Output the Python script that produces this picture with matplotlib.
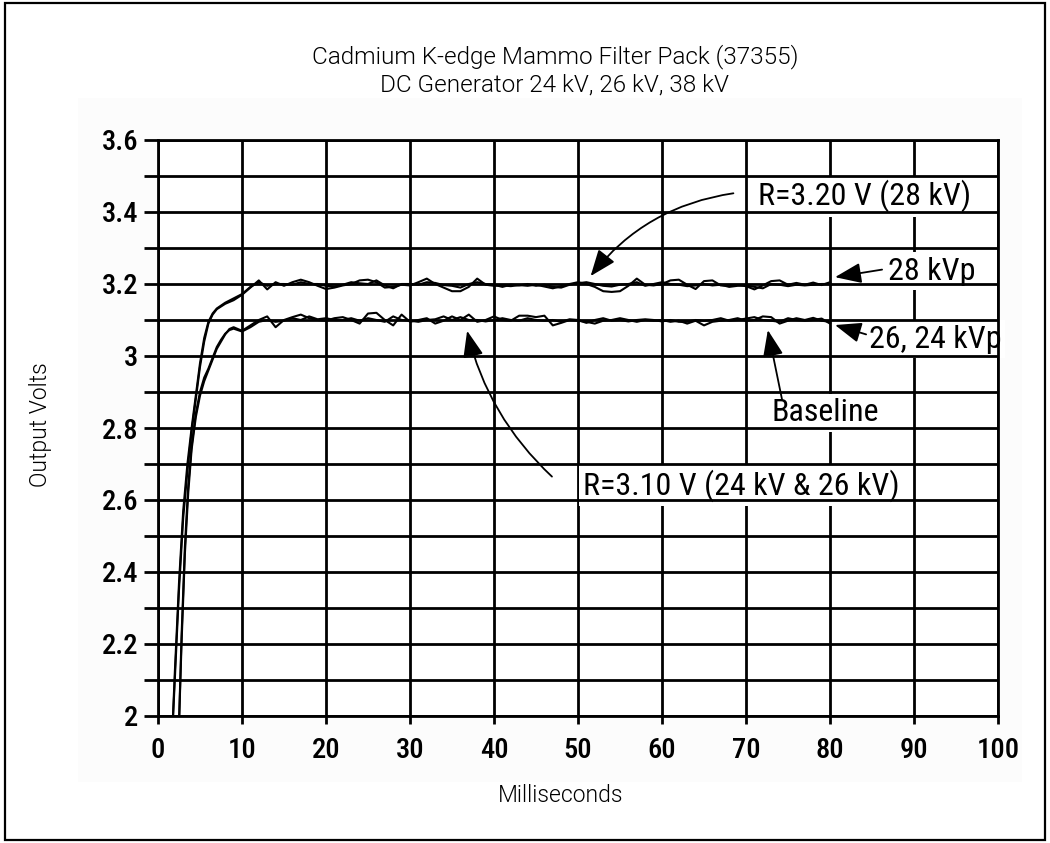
import matplotlib
matplotlib.use("Agg")
import matplotlib.pyplot as plt
from matplotlib.patches import Rectangle

# ---------------- data ----------------
title_lines = ["Cadmium K-edge Mammo Filter Pack (37355)", "DC Generator 24 kV, 26 kV, 38 kV"]
x_label = "Milliseconds"
y_label = "Output Volts"

x_ticks = [0, 10, 20, 30, 40, 50, 60, 70, 80, 90, 100]
y_ticks = [2.0, 2.1, 2.2, 2.3, 2.4, 2.5, 2.6, 2.7, 2.8, 2.9, 3.0, 3.1, 3.2, 3.3, 3.4, 3.5, 3.6]
y_tick_labels = ["2", "", "2.2", "", "2.4", "", "2.6", "", "2.8", "", "3", "", "3.2", "", "3.4", "", "3.6"]

# rise portions
rise28_x = [1.6, 2.0, 2.5, 3.0, 3.5, 4.0, 4.5, 5.0, 5.5, 6.0, 6.5, 7.0, 8.0, 9.0, 10.0, 11.0, 12.0]
rise28_a = [1.90, 2.10, 2.35, 2.55, 2.68, 2.79, 2.88, 2.97, 3.04, 3.09, 3.115, 3.13, 3.145, 3.155, 3.17, 3.19, 3.21]
rise28_b = [1.90, 2.12, 2.37, 2.57, 2.70, 2.80, 2.89, 2.98, 3.05, 3.095, 3.118, 3.132, 3.148, 3.16, 3.172, 3.192, 3.205]

rise_lo_x = [2.4, 2.8, 3.2, 3.6, 4.0, 4.5, 5.0, 5.5, 6.0, 6.5, 7.0, 7.5, 8.0, 8.5, 9.0, 10.0, 11.0, 12.0]
rise26 = [1.90, 2.20, 2.45, 2.62, 2.74, 2.83, 2.89, 2.93, 2.96, 2.99, 3.02, 3.04, 3.06, 3.075, 3.08, 3.07, 3.085, 3.10]
rise24 = [1.90, 2.22, 2.47, 2.64, 2.75, 2.84, 2.90, 2.94, 2.965, 2.995, 3.025, 3.045, 3.062, 3.072, 3.076, 3.068, 3.08, 3.095]

# steady portions, x = 13 .. 80 ms
steady_x = list(range(13, 81))
kv28_a = [3.185, 3.205, 3.195, 3.205, 3.212, 3.205, 3.195, 3.186, 3.190, 3.196,
          3.200, 3.210, 3.212, 3.205, 3.190, 3.192, 3.198, 3.196, 3.205, 3.215,
          3.200, 3.190, 3.180, 3.180, 3.192, 3.215, 3.198, 3.195, 3.196, 3.194,
          3.197, 3.195, 3.198, 3.193, 3.188, 3.194, 3.200, 3.205, 3.200, 3.192,
          3.180, 3.178, 3.180, 3.195, 3.215, 3.198, 3.196, 3.200, 3.210, 3.212,
          3.198, 3.186, 3.208, 3.210, 3.196, 3.195, 3.197, 3.194, 3.185, 3.196,
          3.208, 3.210, 3.198, 3.203, 3.198, 3.204, 3.197, 3.205]
kv28_b = [3.195, 3.200, 3.200, 3.198, 3.205, 3.200, 3.200, 3.195, 3.193, 3.198,
          3.205, 3.202, 3.200, 3.210, 3.196, 3.188, 3.200, 3.200, 3.198, 3.205,
          3.203, 3.197, 3.195, 3.190, 3.200, 3.205, 3.200, 3.198, 3.192, 3.198,
          3.196, 3.200, 3.195, 3.198, 3.192, 3.190, 3.198, 3.202, 3.205, 3.200,
          3.195, 3.193, 3.198, 3.200, 3.205, 3.195, 3.200, 3.205, 3.200, 3.198,
          3.194, 3.196, 3.200, 3.196, 3.198, 3.192, 3.195, 3.196, 3.192, 3.188,
          3.200, 3.198, 3.194, 3.198, 3.196, 3.198, 3.200, 3.200]
kv26 = [3.110, 3.080, 3.100, 3.108, 3.115, 3.105, 3.100, 3.098, 3.105, 3.108,
        3.100, 3.090, 3.118, 3.120, 3.100, 3.085, 3.115, 3.095, 3.100, 3.105,
        3.090, 3.098, 3.110, 3.100, 3.115, 3.095, 3.100, 3.110, 3.100, 3.098,
        3.112, 3.112, 3.108, 3.112, 3.085, 3.092, 3.100, 3.098, 3.095, 3.090,
        3.098, 3.100, 3.105, 3.100, 3.095, 3.100, 3.098, 3.100, 3.095, 3.098,
        3.090, 3.098, 3.085, 3.095, 3.098, 3.100, 3.105, 3.098, 3.100, 3.110,
        3.108, 3.090, 3.098, 3.105, 3.100, 3.106, 3.098, 3.095]
kv24 = [3.100, 3.095, 3.098, 3.105, 3.100, 3.110, 3.102, 3.105, 3.100, 3.100,
        3.105, 3.098, 3.105, 3.100, 3.095, 3.110, 3.100, 3.098, 3.095, 3.100,
        3.102, 3.110, 3.100, 3.108, 3.100, 3.100, 3.096, 3.100, 3.105, 3.100,
        3.098, 3.105, 3.100, 3.098, 3.100, 3.095, 3.102, 3.100, 3.092, 3.100,
        3.105, 3.098, 3.100, 3.096, 3.100, 3.102, 3.100, 3.096, 3.100, 3.095,
        3.095, 3.100, 3.098, 3.100, 3.105, 3.098, 3.100, 3.104, 3.108, 3.100,
        3.098, 3.095, 3.105, 3.100, 3.098, 3.100, 3.104, 3.090]

# annotations: (text, text position, arrow start, arrow tip, curvature)
ann_r320 = ("R=3.20 V (28 kV)", (71.4, 3.444), (68.5, 3.452), (51.5, 3.222), 0.2)
ann_28 = ("28 kVp", (86.9, 3.236), (86.2, 3.240), (80.6, 3.219), 0.0)
ann_2624 = ("26, 24 kVp", (84.6, 3.047), (84.3, 3.060), (80.6, 3.086), 0.0)
ann_base = ("Baseline", (79.4, 2.842), (74.3, 2.878), (72.6, 3.072), 0.0)
ann_r310 = ("R=3.10 V (24 kV & 26 kV)", (50.6, 2.640), (46.9, 2.665), (36.8, 3.070), -0.15)

# ---------------- figure ----------------
W, H = 1050, 843
fig = plt.figure(figsize=(W / 100, H / 100), dpi=100)
fig.patch.set_facecolor("white")

# faint backdrop of the pasted chart image and outer frame
fig.add_artist(Rectangle((78 / W, 1 - 782 / H), (1022 - 78) / W, (782 - 98) / H,
                         transform=fig.transFigure, facecolor="#fcfcfc", edgecolor="none", zorder=0))
fig.add_artist(Rectangle((5 / W, 1 - 840 / H), 1040 / W, 837 / H,
                         transform=fig.transFigure, fill=False, edgecolor="black", lw=1.6, zorder=1))

ax = fig.add_axes([158 / W, 1 - 716 / H, 840 / W, 576 / H])
ax.set_facecolor("white")
ax.set_xlim(0, 100)
ax.set_ylim(2.0, 3.6)

cond = ["Roboto Condensed", "DejaVu Sans"]
tick_font = dict(family=cond, size=20.5, weight=500)
ann_font = dict(family=cond, size=23)

ax.set_xticks(x_ticks)
ax.set_xticklabels([str(v) for v in x_ticks], **tick_font)
ax.set_yticks(y_ticks)
ax.set_yticklabels(y_tick_labels, **tick_font)
ax.tick_params(axis="y", length=10, width=2.0, pad=4, color="black")
ax.tick_params(axis="x", length=6, width=2.0, pad=9, color="black")

for s in ax.spines.values():
    s.set_linewidth(2.0)
    s.set_color("black")
    s.set_zorder(6)

# vertical grid lines (beneath text boxes)
ax.set_axisbelow(True)
ax.grid(axis="x", color="black", lw=2.0)
# horizontal grid lines above text boxes
ax.hlines(y_ticks, 0, 100, colors="black", lw=2.0, zorder=3)

# traces
lw = 1.5
ax.plot(rise28_x + steady_x, rise28_a + kv28_a, color="black", lw=lw, zorder=4)
ax.plot(rise28_x + steady_x, rise28_b + kv28_b, color="black", lw=lw, zorder=4)
ax.plot(rise_lo_x + steady_x, rise26 + kv26, color="black", lw=lw, zorder=4)
ax.plot(rise_lo_x + steady_x, rise24 + kv24, color="black", lw=lw, zorder=4)

# annotations
for text, tpos, start, tip, rad in [ann_r320, ann_28, ann_2624, ann_base, ann_r310]:
    ha = "center" if text == "Baseline" else "left"
    ax.text(tpos[0], tpos[1], text, ha=ha, va="center", zorder=2, **ann_font,
            bbox=dict(facecolor="white", edgecolor="none", pad=3))
    ax.annotate("", xy=tip, xytext=start, zorder=5,
                arrowprops=dict(arrowstyle="-|>,head_length=0.9,head_width=0.35",
                                mutation_scale=18, color="black", lw=1.3,
                                shrinkA=0, shrinkB=0,
                                connectionstyle=f"arc3,rad={rad}"))

# titles and labels
title_font = dict(family=["Roboto", "DejaVu Sans"], weight=300, size=17.5)
label_font = dict(family=["Roboto", "DejaVu Sans"], weight=300, size=16.5)
fig.text(555 / W, 1 - 57 / H, title_lines[0], ha="center", va="center", **title_font)
fig.text(555 / W, 1 - 85 / H, title_lines[1], ha="center", va="center", **title_font)
fig.text(561 / W, 1 - 795 / H, x_label, ha="center", va="center", **label_font)
fig.text(40 / W, 1 - 425 / H, y_label, ha="center", va="center", rotation=90, **label_font)

fig.savefig("out.png", dpi=100, facecolor="white")
